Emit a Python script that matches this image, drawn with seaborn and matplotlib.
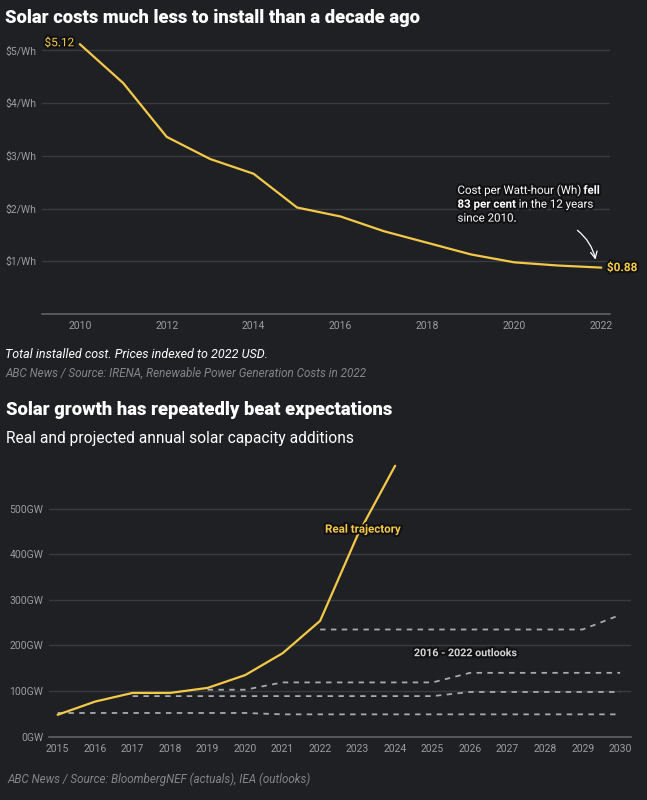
import numpy as np
import pandas as pd
import seaborn as sns
import matplotlib.pyplot as plt
import matplotlib.patheffects as pe

# --- data ---
cost_years = [2010, 2011, 2012, 2013, 2014, 2015, 2016, 2017, 2018, 2019, 2020, 2021, 2022]
cost_values = [5.12, 4.38, 3.36, 2.94, 2.66, 2.02, 1.85, 1.57, 1.35, 1.13, 0.98, 0.92, 0.88]
cost_ticks = [1, 2, 3, 4, 5]
cost_tick_labels = ["$1/Wh", "$2/Wh", "$3/Wh", "$4/Wh", "$5/Wh"]
cost_year_ticks = [2010, 2012, 2014, 2016, 2018, 2020, 2022]

real_years = [2015, 2016, 2017, 2018, 2019, 2020, 2021, 2022, 2023, 2024]
real_values = [48, 77, 96, 96, 107, 135, 183, 254, 442, 594]

outlook_2016_years = [2015, 2016, 2017, 2018, 2019, 2020, 2021, 2022, 2023, 2024, 2025, 2026, 2027, 2028, 2029, 2030]
outlook_2016_values = [52, 52, 52, 52, 52, 52, 49, 49, 49, 49, 49, 49, 49, 49, 49, 49]
outlook_2017_years = [2017, 2018, 2019, 2020, 2021, 2022, 2023, 2024, 2025, 2026, 2027, 2028, 2029, 2030]
outlook_2017_values = [89, 89, 89, 89, 89, 89, 89, 89, 89, 98, 98, 98, 98, 98]
outlook_2019_years = [2019, 2020, 2021, 2022, 2023, 2024, 2025, 2026, 2027, 2028, 2029, 2030]
outlook_2019_values = [103, 103, 119, 119, 119, 119, 119, 140, 140, 140, 140, 140]
outlook_2022_years = [2022, 2023, 2024, 2025, 2026, 2027, 2028, 2029, 2030]
outlook_2022_values = [235, 235, 235, 235, 235, 235, 235, 235, 267]

growth_ticks = [0, 100, 200, 300, 400, 500]
growth_tick_labels = ["0GW", "100GW", "200GW", "300GW", "400GW", "500GW"]
growth_year_ticks = list(range(2015, 2031))

BG = "#1f2024"
GRID = "#3a3b40"
BASE = "#606166"
YELLOW = "#f4c94a"
TICK = "#9c9da1"
DASH = "#a9aaad"

sns.set_theme(style="dark", rc={
    "figure.facecolor": BG,
    "axes.facecolor": BG,
    "savefig.facecolor": BG,
    "text.color": "white",
    "xtick.color": TICK,
    "ytick.color": TICK,
})
plt.rcParams["font.family"] = ["Roboto", "DejaVu Sans"]

W, H = 647, 800
fig = plt.figure(figsize=(W / 100, H / 100), dpi=100)


def fx(px):
    return px / W


def fy(py):
    return 1 - py / H


def style_axes(ax):
    for side in ["top", "right", "left"]:
        ax.spines[side].set_visible(False)
    ax.spines["bottom"].set_color(BASE)
    ax.spines["bottom"].set_linewidth(1.2)
    ax.yaxis.grid(True, color=GRID, lw=1)
    ax.xaxis.grid(False)
    ax.tick_params(axis="both", length=0, labelsize=7.5)
    ax.tick_params(axis="x", pad=5)
    ax.tick_params(axis="y", pad=4)
    ax.set_xlabel("")
    ax.set_ylabel("")


stroke = [pe.withStroke(linewidth=3, foreground="#111114")]

# --- top chart: installed cost ---
ax1 = fig.add_axes([fx(42), fy(314), fx(610) - fx(42), fy(32) - fy(314)])
cost_df = pd.DataFrame({"year": cost_years, "cost": cost_values})
sns.lineplot(data=cost_df, x="year", y="cost", ax=ax1, color=YELLOW, lw=1.6)
ax1.set_xlim(2009.13, 2022.2)
ax1.set_ylim(0, 5.35)
ax1.set_yticks(cost_ticks)
ax1.set_yticklabels(cost_tick_labels)
ax1.set_xticks(cost_year_ticks)
ax1.set_xticklabels([str(y) for y in cost_year_ticks])
style_axes(ax1)

ax1.annotate(f"${cost_values[0]:.2f}", (cost_years[0], cost_values[0]),
             xytext=(-4, 1), textcoords="offset points", ha="right", va="center",
             color=YELLOW, fontsize=8.5, path_effects=stroke)
ax1.annotate(f"${cost_values[-1]:.2f}", (cost_years[-1], cost_values[-1]),
             xytext=(4, 0), textcoords="offset points", ha="left", va="center",
             color=YELLOW, fontsize=8.5, fontweight="bold", path_effects=stroke)

# annotation with mixed weights
ann_fs = 8.3
t1 = ax1.text(2018.69, 2.28, "Cost per Watt-hour (Wh) ", fontsize=ann_fs, color="white",
              va="baseline", ha="left", path_effects=stroke)
ax1.annotate("fell", xy=(1, 0), xycoords=t1, va="bottom", ha="left",
             fontsize=ann_fs, fontweight="bold", color="white", path_effects=stroke)
t2 = ax1.annotate("83 per cent", xy=(0, 0), xycoords=t1, xytext=(0, -10),
                  textcoords="offset points", va="bottom", ha="left",
                  fontsize=ann_fs, fontweight="bold", color="white", path_effects=stroke)
ax1.annotate(" in the 12 years", xy=(1, 0), xycoords=t2, va="bottom", ha="left",
             fontsize=ann_fs, color="white", path_effects=stroke)
ax1.annotate("since 2010.", xy=(0, 0), xycoords=t2, xytext=(0, -10),
             textcoords="offset points", va="bottom", ha="left",
             fontsize=ann_fs, color="white", path_effects=stroke)
ax1.annotate("", xy=(2021.88, 0.98), xytext=(2021.4, 1.62),
             arrowprops=dict(arrowstyle="->", color="white", lw=0.9,
                             connectionstyle="arc3,rad=-0.2"))

# --- bottom chart: capacity additions ---
ax2 = fig.add_axes([fx(49), fy(736.7), fx(631) - fx(49), fy(463) - fy(736.7)])
outlooks = [
    (outlook_2016_years, outlook_2016_values),
    (outlook_2017_years, outlook_2017_values),
    (outlook_2019_years, outlook_2019_values),
    (outlook_2022_years, outlook_2022_values),
]
for yrs, vals in outlooks:
    odf = pd.DataFrame({"year": yrs, "gw": vals})
    sns.lineplot(data=odf, x="year", y="gw", ax=ax2, color=DASH, lw=1.3,
                 dashes=False, linestyle=(0, (3, 3)))
real_df = pd.DataFrame({"year": real_years, "gw": real_values})
sns.lineplot(data=real_df, x="year", y="gw", ax=ax2, color=YELLOW, lw=1.6)
ax2.lines[-1].set_clip_on(False)
ax2.set_xlim(2014.77, 2030.29)
ax2.set_ylim(0, 600)
ax2.set_yticks(growth_ticks)
ax2.set_yticklabels(growth_tick_labels)
ax2.set_xticks(growth_year_ticks)
ax2.set_xticklabels([str(y) for y in growth_year_ticks])
style_axes(ax2)

ax2.text(2023.14, 455, "Real trajectory", ha="center", va="center", fontsize=8.3,
         fontweight="bold", color=YELLOW, path_effects=stroke)
ax2.text(2025.86, 183, "2016 - 2022 outlooks", ha="center", va="center", fontsize=7.7,
         fontweight="bold", color="#d4d4d6", path_effects=stroke)

# --- headings and notes ---
fig.text(fx(5), fy(18), "Solar costs much less to install than a decade ago",
         fontsize=13.2, fontweight="heavy", color="white", va="center")
fig.text(fx(5), fy(355), "Total installed cost. Prices indexed to 2022 USD.",
         fontsize=9, style="italic", color="white", va="center")
fig.text(fx(5), fy(373), "ABC News / Source: IRENA, Renewable Power Generation Costs in 2022",
         fontsize=8.4, style="italic", color="#85868a", va="center")
fig.text(fx(6), fy(410), "Solar growth has repeatedly beat expectations",
         fontsize=13.2, fontweight="heavy", color="white", va="center")
fig.text(fx(6), fy(439), "Real and projected annual solar capacity additions",
         fontsize=11.2, color="white", va="center")
fig.text(fx(7), fy(779), "ABC News / Source: BloombergNEF (actuals), IEA (outlooks)",
         fontsize=8.4, style="italic", color="#85868a", va="center")

fig.savefig("out.png", dpi=100)
